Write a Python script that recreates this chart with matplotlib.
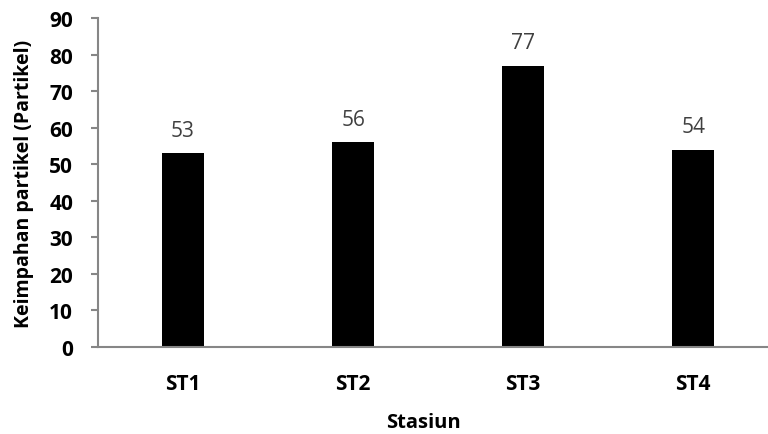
import numpy as np
import matplotlib.pyplot as plt

stasiun = ["ST1", "ST2", "ST3", "ST4"]
partikel = [53, 56, 77, 54]

plt.rcParams['font.family'] = ['Open Sans', 'DejaVu Sans']

fig = plt.figure(figsize=(7.68, 4.35), dpi=100)
ax = fig.add_axes([98 / 768, 1 - 348 / 435, 670 / 768, 329 / 435])

x = np.arange(len(stasiun))
bars = ax.bar(x, partikel, width=0.25, color='black')

for xi, v in zip(x, partikel):
    ax.annotate(str(v), (xi, v), xytext=(0, 9), textcoords='offset points',
                ha='center', va='bottom', fontsize=15, color='#404040')

ax.set_xlim(-0.5, 3.44)
ax.set_ylim(0, 90)
ax.set_yticks(range(0, 91, 10))
ax.set_xticks(x)
ax.set_xticklabels(stasiun)

for s in ['top', 'right']:
    ax.spines[s].set_visible(False)
for s in ['left', 'bottom']:
    ax.spines[s].set_color('#868686')
    ax.spines[s].set_linewidth(1.5)

ax.tick_params(axis='y', length=5, width=1.5, color='#868686', labelsize=15, pad=13)
ax.tick_params(axis='x', length=0, labelsize=15, pad=19)
for lbl in ax.get_xticklabels() + ax.get_yticklabels():
    lbl.set_fontweight('bold')

ax.set_ylabel("Keimpahan partikel (Partikel)", fontsize=14, fontweight='bold', va='center')
ax.yaxis.set_label_coords(-74 / 670, 0.5)
ax.set_xlabel("Stasiun", fontsize=14.5, fontweight='bold', va='center')
ax.xaxis.set_label_coords(0.5 - 10 / 670, -75 / 329)

fig.savefig("out.png", dpi=100)
